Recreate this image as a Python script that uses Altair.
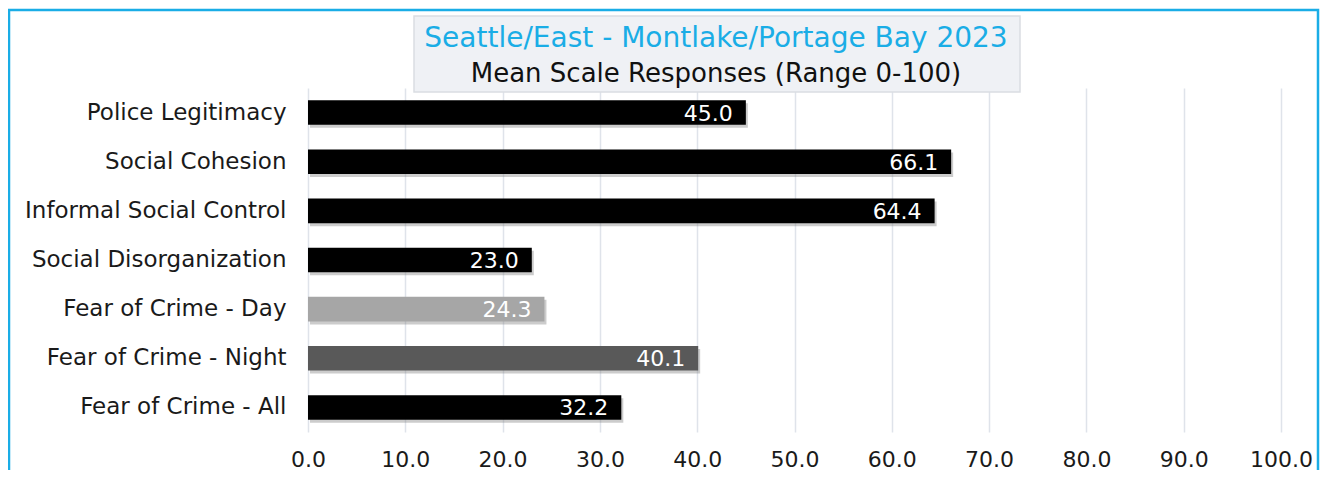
import altair as alt
import pandas as pd

categories = [
    "Police Legitimacy",
    "Social Cohesion",
    "Informal Social Control",
    "Social Disorganization",
    "Fear of Crime - Day",
    "Fear of Crime - Night",
    "Fear of Crime - All",
]
values = [45.0, 66.1, 64.4, 23.0, 24.3, 40.1, 32.2]
bar_colors = ["#000000", "#000000", "#000000", "#000000", "#a6a6a6", "#595959", "#000000"]
x_ticks = [0, 10, 20, 30, 40, 50, 60, 70, 80, 90, 100]
title_line1 = "Seattle/East - Montlake/Portage Bay 2023"
title_line2 = "Mean Scale Responses (Range 0-100)"

FONT = "DejaVu Sans"
TEXT_COLOR = "#1a1a1a"

df = pd.DataFrame({"category": categories, "value": values})
one = pd.DataFrame({"k": [0]})

y_enc = alt.Y(
    "category:N",
    sort=categories,
    scale=alt.Scale(paddingInner=0.5, paddingOuter=0.25),
    axis=alt.Axis(
        title=None, domain=False, ticks=False, grid=False,
        labelFontSize=23, labelFont=FONT, labelColor=TEXT_COLOR,
        labelPadding=22, labelLimit=400,
    ),
)
x_enc = alt.X(
    "value:Q",
    scale=alt.Scale(domain=[0, 100], nice=False),
    axis=alt.Axis(
        title=None, values=x_ticks, format=".1f", domain=False, ticks=False,
        grid=True, gridColor="#dfe3ea", gridWidth=1.5, labelFlush=False,
        labelFontSize=22, labelFont=FONT, labelColor=TEXT_COLOR, labelPadding=17,
    ),
)

base = alt.Chart(df)

shadow = base.mark_bar(xOffset=2, yOffset=3, color="#808080", opacity=0.4).encode(
    x=x_enc, y=y_enc
)
bars = base.mark_bar().encode(
    x=x_enc,
    y=y_enc,
    color=alt.Color("category:N", scale=alt.Scale(domain=categories, range=bar_colors), legend=None),
)
labels = base.mark_text(
    align="right", baseline="middle", dx=-13, dy=1, color="white", fontSize=22, font=FONT
).encode(
    x=alt.X("value:Q"),
    y=alt.Y("category:N", sort=categories),
    text=alt.Text("value:Q", format=".1f"),
)

border = alt.Chart(one).mark_rect(
    fillOpacity=0, stroke="#1aade6", strokeWidth=2.5
).encode(
    x=alt.value(-299), x2=alt.value(1010), y=alt.value(-78), y2=alt.value(430)
)
title_box = alt.Chart(one).mark_rect(
    fill="#eff1f5", stroke="#dadde2", strokeWidth=1.5
).encode(
    x=alt.value(106), x2=alt.value(712), y=alt.value(-72), y2=alt.value(4)
)
t1 = alt.Chart(pd.DataFrame({"t": [title_line1]})).mark_text(
    align="center", baseline="middle", fontSize=28, font=FONT, color="#1aade6"
).encode(x=alt.value(408), y=alt.value(-49), text="t:N")
t2 = alt.Chart(pd.DataFrame({"t": [title_line2]})).mark_text(
    align="center", baseline="middle", fontSize=26, font=FONT, color="#111111"
).encode(x=alt.value(408), y=alt.value(-14), text="t:N")

chart = alt.layer(shadow, bars, labels, border, title_box, t1, t2).properties(
    width=973,
    height=344,
    padding={"left": 300, "top": 80, "right": 39, "bottom": 38},
    autosize=alt.AutoSizeParams(type="none"),
    background="white",
).configure_view(stroke=None)

chart.save("out.html", embed_options={"renderer": "svg", "actions": False})
